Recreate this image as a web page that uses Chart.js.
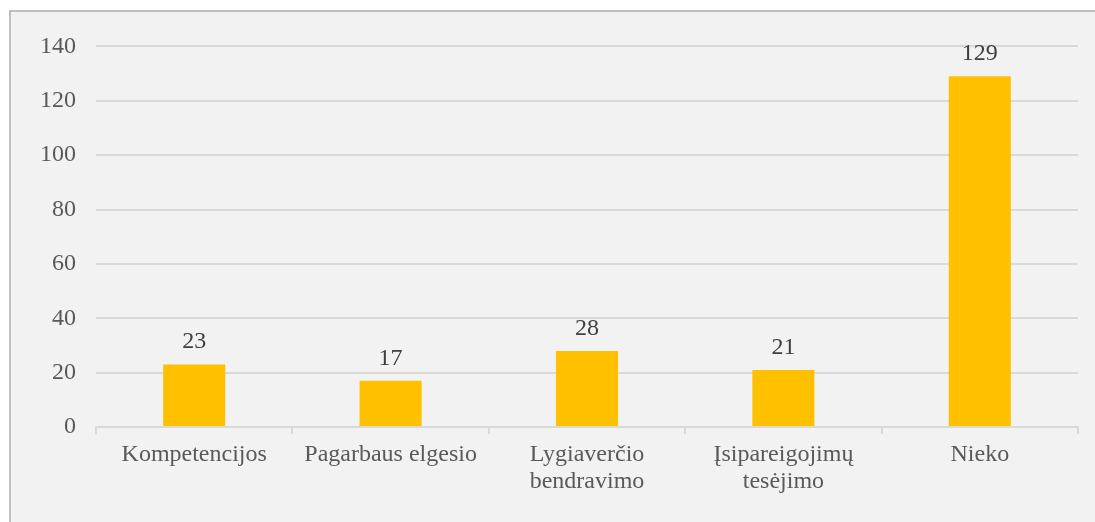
<!DOCTYPE html>
<html>
<head>
<meta charset="utf-8">
<script src="https://cdn.jsdelivr.net/npm/chart.js@4/dist/chart.umd.min.js"></script>
<style>
    html, body { margin: 0; padding: 0; background: #ffffff; overflow: hidden; }
    #frame {
        position: absolute;
        left: 9px;
        top: 10px;
        width: 1095px;
        height: 520px;
        background: #f2f2f2;
        border-left: 2px solid #bfbfbf;
        border-top: 2px solid #bfbfbf;
    }
    #chart { display: block; }
</style>
</head>
<body>
<div id="frame"><canvas id="chart" width="1084" height="510"></canvas></div>
<script>
"use strict";

// Data
var categories = ["Kompetencijos", "Pagarbaus elgesio", ["Lygiaverčio", "bendravimo"], ["Įsipareigojimų", "tesėjimo"], "Nieko"];
var counts = [23, 17, 28, 21, 129];
var yTicks = [0, 20, 40, 60, 80, 100, 120, 140];

var fontFamily = "'Liberation Serif', 'Times New Roman', serif";

// Draws value labels above each bar
var valueLabels = {
    id: "valueLabels",
    afterDatasetsDraw: function (chart) {
        var ctx = chart.ctx;
        var meta = chart.getDatasetMeta(0);
        ctx.save();
        ctx.font = "24px " + fontFamily;
        ctx.fillStyle = "#404040";
        ctx.textAlign = "center";
        ctx.textBaseline = "alphabetic";
        for (let i = 0; i < meta.data.length; i++) {
            var bar = meta.data[i];
            ctx.fillText(String(counts[i]), bar.x, bar.y - 16);
        }
        ctx.restore();
    }
};

var config = {
    type: "bar",
    data: {
        labels: categories,
        datasets: [{
            data: counts,
            backgroundColor: "#ffc000",
            borderWidth: 0,
            categoryPercentage: 1,
            barPercentage: 0.316
        }]
    },
    options: {
        responsive: false,
        animation: false,
        layout: {
            padding: { top: 34, right: 17, bottom: 0, left: 0 }
        },
        plugins: {
            legend: { display: false },
            title: { display: false },
            tooltip: { enabled: false }
        },
        scales: {
            x: {
                offset: true,
                grid: {
                    offset: true,
                    drawOnChartArea: false,
                    drawTicks: true,
                    tickLength: 7,
                    color: "#d9d9d9",
                    lineWidth: 2
                },
                border: { color: "#d9d9d9", width: 2 },
                ticks: {
                    color: "#595959",
                    padding: 8,
                    maxRotation: 0,
                    autoSkip: false,
                    font: { family: fontFamily, size: 24, lineHeight: 1.1 }
                },
                afterFit: function (scale) { scale.height = 95; }
            },
            y: {
                min: 0,
                max: 140,
                afterBuildTicks: function (scale) {
                    scale.ticks = yTicks.map(function (v) { return { value: v }; });
                },
                grid: {
                    color: "#d9d9d9",
                    lineWidth: 2,
                    drawTicks: false
                },
                border: { display: false },
                ticks: {
                    color: "#595959",
                    padding: 20,
                    font: { family: fontFamily, size: 24 }
                },
                afterFit: function (scale) { scale.width = 85; }
            }
        }
    },
    plugins: [valueLabels]
};

var ctx = document.getElementById("chart").getContext("2d");
var chart = new Chart(ctx, config);
</script>
</body>
</html>
